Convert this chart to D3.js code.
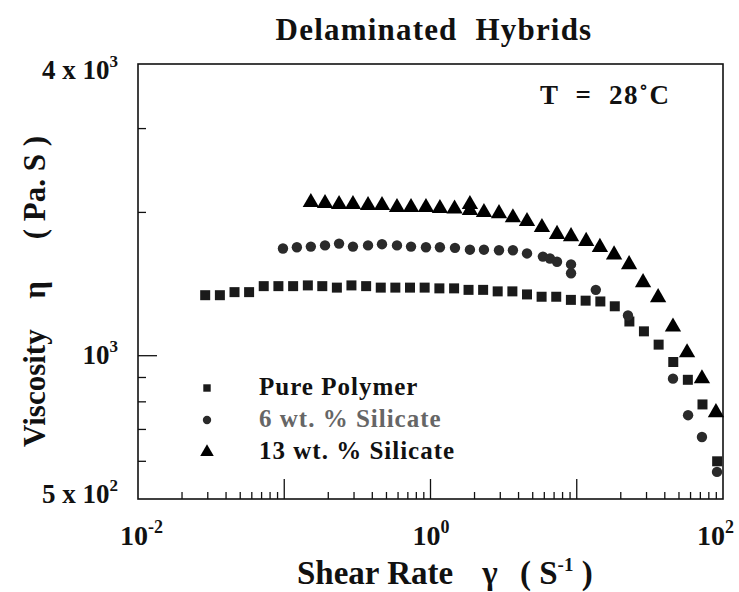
<!DOCTYPE html>
<html>
<head>
<meta charset="utf-8">
<script src="https://cdn.jsdelivr.net/npm/d3@7"></script>
<style>
  body { margin: 0; background: #fff; }
  text { font-family: "Liberation Serif", "Times New Roman", serif; font-weight: bold; fill: #111; white-space: pre; }
</style>
</head>
<body>
<svg id="chart" width="739" height="592"></svg>
<script>
// shear rate (1/s) and viscosity (Pa.s)
var pureX = [0.0288,0.0363,0.0457,0.0575,0.0724,0.0912,0.115,0.145,0.182,0.229,0.288,0.363,0.457,0.575,0.724,0.912,1.15,1.45,1.82,2.29,2.88,3.63,4.57,5.75,7.24,9.12,11.5,14.5,18.2,22.9,28.8,36.3,45.7,57.5,72.4,91.2];
var pureY = [1340,1340,1360,1360,1400,1400,1400,1405,1400,1390,1405,1400,1390,1390,1390,1390,1385,1385,1375,1375,1365,1365,1345,1330,1330,1310,1305,1300,1270,1180,1125,1055,970,890,790,600];

var sil6X = [0.098,0.122,0.152,0.190,0.237,0.295,0.374,0.466,0.590,0.736,0.931,1.16,1.47,1.86,2.32,2.94,3.66,4.57,5.87,6.56,7.33,9.14,9.14,13.5,22.4,45.5,57.7,71.8,91.0];
var sil6Y = [1680,1690,1695,1705,1720,1695,1705,1715,1705,1695,1690,1690,1685,1670,1670,1665,1665,1640,1615,1600,1575,1555,1490,1375,1215,895,750,675,570];

var sil13X = [0.152,0.190,0.237,0.295,0.374,0.466,0.590,0.736,0.931,1.16,1.46,1.86,1.86,2.32,2.94,3.66,4.57,5.78,7.33,9.14,11.6,14.4,18.0,22.8,28.4,36.0,45.5,56.8,71.8,89.5];
var sil13Y = [2100,2090,2080,2080,2070,2070,2050,2050,2050,2040,2035,2080,2020,2000,1990,1950,1915,1860,1800,1780,1740,1690,1630,1555,1425,1325,1150,1015,895,760];

var seriesNames = ["Pure Polymer", "6 wt. % Silicate", "13 wt. % Silicate"];
var xMajor = [0.01, 1, 100];          // labelled x ticks
var xMajorExp = ["-2", "0", "2"];
var yMinorTicks = [600, 700, 800, 900, 2000, 3000];

var svg = d3.select("#chart");
var pl = 138, pr = 723, pt = 64, pb = 499;

var x = d3.scaleLog().domain([0.01, 100]).range([pl, pr]);
var y = d3.scaleLog().domain([500, 4100]).range([pb, pt]);

// frame
svg.append("rect")
  .attr("x", pl).attr("y", pt)
  .attr("width", pr - pl).attr("height", pb - pt)
  .attr("fill", "none").attr("stroke", "#111").attr("stroke-width", 1.6);

// x ticks (inward)
var xTicks = [];
[0.01, 0.1, 1, 10].forEach(function(d) {
  for (var k = 1; k < 10; k++) xTicks.push({v: d * k, major: k == 1});
});
svg.append("g").selectAll("line")
  .data(xTicks.filter(function(d) { return d.v > 0.01; }))
  .enter().append("line")
  .attr("x1", function(d) { return x(d.v); })
  .attr("x2", function(d) { return x(d.v); })
  .attr("y1", pb)
  .attr("y2", function(d) { return pb - (d.major ? 20 : 7); })
  .attr("stroke", "#111").attr("stroke-width", 1.3);

// y ticks
svg.append("g").selectAll("line")
  .data(yMinorTicks)
  .enter().append("line")
  .attr("x1", pl).attr("x2", pl + 8)
  .attr("y1", function(d) { return y(d); })
  .attr("y2", function(d) { return y(d); })
  .attr("stroke", "#111").attr("stroke-width", 1.3);
svg.append("line")
  .attr("x1", pl).attr("x2", pl + 19)
  .attr("y1", y(1000)).attr("y2", y(1000))
  .attr("stroke", "#111").attr("stroke-width", 1.3);

// x tick labels
var xl = svg.append("g").selectAll("text")
  .data(xMajor)
  .enter().append("text")
  .attr("x", function(d, i) { return i == 2 ? 734 : x(d) - 18; })
  .attr("y", 545)
  .attr("text-anchor", function(d, i) { return i == 2 ? "end" : "start"; })
  .attr("font-size", 28);
xl.append("tspan").text("10");
xl.append("tspan").attr("dy", -12).attr("font-size", 18)
  .text(function(d, i) { return xMajorExp[i]; });

// y tick labels
function yLabel(v, pre, exp, dy) {
  var t = svg.append("text")
    .attr("x", 118).attr("y", y(v) + dy)
    .attr("text-anchor", "end")
    .attr("font-size", 27);
  t.append("tspan").text(pre + "10");
  t.append("tspan").attr("dy", -12).attr("font-size", 17).text(exp);
}
yLabel(4000, "4 x ", "3", 10);
yLabel(1000, "", "3", 8);
yLabel(500, "5 x ", "2", 4);

// titles
svg.append("text").attr("x", 434).attr("y", 40)
  .attr("text-anchor", "middle").attr("font-size", 31)
  .attr("letter-spacing", 1.2)
  .text("Delaminated  Hybrids");

svg.append("text").attr("x", 540).attr("y", 104)
  .attr("font-size", 27).attr("letter-spacing", 1.5)
  .text("T  =  28\u02DAC");

// x axis title
var xtY = 584;
svg.append("text").attr("x", 297).attr("y", xtY).attr("font-size", 33)
  .text("Shear Rate");
svg.append("text").attr("x", 490).attr("y", xtY).attr("font-size", 33)
  .attr("text-anchor", "middle").attr("font-weight", "normal").text("\u03B3");
var xt = svg.append("text").attr("x", 520).attr("y", xtY).attr("font-size", 33);
xt.append("tspan").text("( S");
xt.append("tspan").attr("dy", -13).attr("font-size", 19).text("-1");
xt.append("tspan").attr("dy", 13).text(" )");

// y axis title, rotated
var yt = svg.append("g").attr("transform", "translate(45,0) rotate(-90)");
yt.append("text").attr("x", -447).attr("y", 0).attr("font-size", 31).text("Viscosity");
yt.append("text").attr("x", -290).attr("y", 0).attr("font-size", 31)
  .attr("text-anchor", "middle").attr("font-weight", "normal").text("\u03B7");
yt.append("text").attr("x", -136).attr("y", 0).attr("font-size", 31)
  .attr("text-anchor", "end").text("( Pa. S )");

// markers
var sym = [d3.symbolSquare, d3.symbolCircle, d3.symbolTriangle];
var sizes = [100, 85, 115];
var data = [
  d3.zip(pureX, pureY),
  d3.zip(sil6X, sil6Y),
  d3.zip(sil13X, sil13Y)
];
var fills = ["#1a1a1a", "#2a2a2a", "#000"];

data.forEach(function(pts, i) {
  svg.append("g").selectAll("path")
    .data(pts)
    .enter().append("path")
    .attr("d", d3.symbol().type(sym[i]).size(sizes[i]))
    .attr("transform", function(d) { return "translate(" + x(d[0]) + "," + y(d[1]) + ")"; })
    .attr("fill", fills[i]);
});

// legend
var leg = svg.append("g").selectAll("g")
  .data(seriesNames)
  .enter().append("g")
  .attr("transform", function(d, i) { return "translate(207," + (388 + i * 32) + ")"; });
leg.append("path")
  .attr("d", function(d, i) { return d3.symbol().type(sym[i]).size([55, 55, 80][i])(); })
  .attr("fill", function(d, i) { return fills[i]; });
leg.append("text")
  .attr("x", 52).attr("y", 7)
  .attr("font-size", 25).attr("letter-spacing", 1)
  .attr("font-weight", function(d, i) { return i == 1 ? "normal" : "bold"; })
  .style("fill", function(d, i) { return i == 1 ? "#666" : "#111"; })
  .text(function(d) { return d; });
</script>
</body>
</html>
